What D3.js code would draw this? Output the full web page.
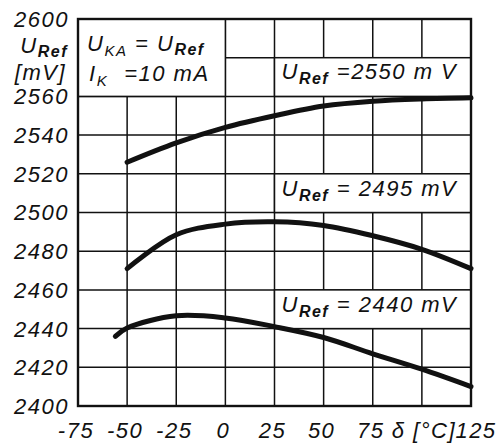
<!DOCTYPE html>
<html>
<head>
<meta charset="utf-8">
<script src="https://cdn.jsdelivr.net/npm/d3@7"></script>
<style>
  body { margin: 0; background: #fff; }
  svg { display: block; }
</style>
</head>
<body>
<svg id="chart"></svg>
<script>
// temperature grid (°C) and reference voltage grid (mV)
const xTicks = [-75, -50, -25, 0, 25, 50, 75, 100, 125];
const yTicks = [2400, 2420, 2440, 2460, 2480, 2500, 2520, 2540, 2560, 2580, 2600];

// curves: [temperature, mV]
const curve2550 = [[-50, 2526], [-25, 2536], [0, 2544], [25, 2550], [50, 2555], [75, 2557.5], [100, 2558.7], [125, 2559.3]];
const curve2495 = [[-50, 2471], [-25, 2488.5], [0, 2494], [25, 2495.2], [50, 2493.3], [75, 2488], [100, 2481], [125, 2471]];
const curve2440 = [[-56, 2436], [-50, 2440.3], [-25, 2446.6], [0, 2445.5], [25, 2441], [50, 2435.4], [75, 2427], [100, 2419], [125, 2410]];
const curves = [curve2550, curve2495, curve2440];

// white label boxes: [x0, x1, y0, y1] in data units
const boxes = [[-75, 0, 2560, 2600], [25, 125, 2560, 2580], [25, 125, 2500, 2520], [25, 125, 2440, 2460]];
const labelTexts = ["=2550 m V", "= 2495 mV", "= 2440 mV"];
const labelLevels = [2560, 2500, 2440];

const width = 496, height = 444;
const svg = d3.select("#chart").attr("width", width).attr("height", height);

const x = d3.scaleLinear([-75, 125], [78, 471]);
const y = d3.scaleLinear([2400, 2600], [406, 19]);

const font = "'Liberation Sans', Arial, sans-serif";
const ink = "#111";

// grid
svg.append("g").selectAll("line").data(xTicks).join("line")
  .attr("x1", d => x(d)).attr("x2", d => x(d))
  .attr("y1", y(2400)).attr("y2", y(2600))
  .attr("stroke", ink).attr("stroke-width", 1.5);
svg.append("g").selectAll("line").data(yTicks).join("line")
  .attr("x1", x(-75)).attr("x2", x(125))
  .attr("y1", d => y(d)).attr("y2", d => y(d))
  .attr("stroke", ink).attr("stroke-width", 1.5);

// label boxes hide the grid behind them
svg.append("g").selectAll("rect").data(boxes).join("rect")
  .attr("x", d => x(d[0])).attr("width", d => x(d[1]) - x(d[0]))
  .attr("y", d => y(d[3])).attr("height", d => y(d[2]) - y(d[3]))
  .attr("fill", "#fff").attr("stroke", ink).attr("stroke-width", 1.5);

// curves
const line = d3.line().x(d => x(d[0])).y(d => y(d[1])).curve(d3.curveCatmullRom);
svg.append("g").selectAll("path").data(curves).join("path")
  .attr("d", line)
  .attr("fill", "none").attr("stroke", ink)
  .attr("stroke-width", 5).attr("stroke-linecap", "round");

// frame
svg.append("rect")
  .attr("x", x(-75)).attr("y", y(2600))
  .attr("width", x(125) - x(-75)).attr("height", y(2400) - y(2600))
  .attr("fill", "none").attr("stroke", ink).attr("stroke-width", 2.4);

const txt = svg.append("g")
  .attr("font-family", font).attr("font-style", "italic")
  .attr("font-size", 22).attr("fill", ink).attr("letter-spacing", 1.5);

// y tick labels (2580 gives way to the axis title)
txt.append("g").selectAll("text").data(yTicks.filter(d => d !== 2580)).join("text")
  .attr("x", 69).attr("y", d => y(d)).attr("dy", "0.36em")
  .attr("text-anchor", "end")
  .text(d => d);

// x tick labels (100 gives way to the axis title)
txt.append("g").selectAll("text").data(xTicks.filter(d => d !== 100)).join("text")
  .attr("x", d => x(d)).attr("y", 438)
  .attr("text-anchor", "middle")
  .attr("dx", d => d === 125 ? 5 : -2)
  .text(d => d < 0 ? "-" + Math.abs(d) : d);

txt.append("text").attr("x", x(100) + 2).attr("y", 438).attr("text-anchor", "middle")
  .text("δ [°C]");

// y axis title
const yt = txt.append("text").attr("x", 68).attr("y", 53).attr("text-anchor", "end");
yt.append("tspan").text("U");
yt.append("tspan").attr("font-size", 16).attr("font-weight", "bold").attr("dy", 4).text("Ref");
txt.append("text").attr("x", 66).attr("y", 80).attr("text-anchor", "end").text("[mV]");

// conditions box
const c1 = txt.append("text").attr("x", 87).attr("y", 51);
c1.append("tspan").text("U");
c1.append("tspan").attr("font-size", 15).attr("dy", 5).text("KA");
c1.append("tspan").attr("dy", -5).text("  =  U");
c1.append("tspan").attr("font-size", 16).attr("font-weight", "bold").attr("dy", 4).text("Ref");
const c2 = txt.append("text").attr("x", 89).attr("y", 81);
c2.append("tspan").text("I");
c2.append("tspan").attr("font-size", 15).attr("dy", 5).text("K");
c2.append("tspan").attr("dy", -5).attr("dx", 16).text("=10 mA");

// curve labels
labelTexts.forEach((v, i) => {
  const t = txt.append("text").attr("x", x(25) + 7).attr("y", y(labelLevels[i]) - 17);
  t.append("tspan").text("U");
  t.append("tspan").attr("font-size", 16).attr("font-weight", "bold").attr("dy", 5).text("Ref");
  t.append("tspan").attr("dy", -5).text(" " + v);
});
</script>
</body>
</html>
